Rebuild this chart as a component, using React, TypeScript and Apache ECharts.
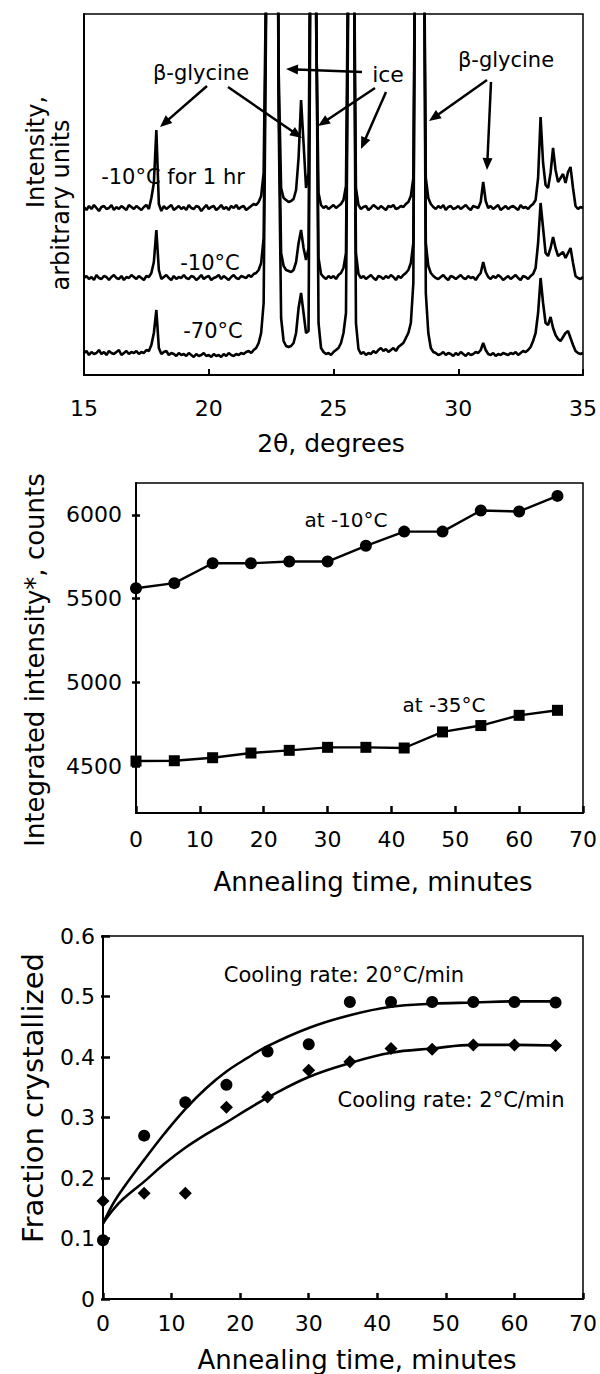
import React, { useEffect, useRef } from "react";
import * as echarts from "echarts";

const FONT = '"DejaVu Sans", sans-serif';

// ---------- Panel A: XRD patterns ----------
const twoThetaStart = 15;
const twoThetaStep = 0.1;
const xrdTicks = [15, 20, 25, 30, 35];
const xrdNames = ["-10°C for 1 hr", "-10°C", "-70°C"];
const xrdOffsets = [157, 87, 12];
// intensities (arbitrary units) sampled every 0.1° from 15.0° to 35.0°
const xrd10for1hr = [
  11, 8, 12, 9, 13, 10, 7, 11, 12, 9,
  10, 13, 8, 11, 9, 12, 10, 8, 13, 11,
  9, 12, 10, 8, 11, 13, 9, 20, 35, 88,
  14, 7, 12, 9, 11, 13, 8, 10, 12, 9,
  11, 8, 13, 10, 9, 12, 11, 7, 10, 13,
  9, 11, 12, 8, 10, 13, 9, 11, 8, 12,
  10, 13, 9, 11, 12, 8, 10, 12, 14, 13,
  16, 22, 45, 250, 600, 700, 700, 600, 150, 30,
  20, 18, 16, 17, 19, 28, 60, 118, 75, 30,
  45, 400, 600, 200, 25, 13, 10, 12, 9, 11,
  13, 10, 12, 14, 18, 32, 300, 700, 350, 30,
  13, 9, 11, 12, 8, 10, 13, 11, 9, 12,
  10, 8, 12, 11, 13, 9, 10, 12, 11, 14,
  16, 22, 40, 400, 700, 700, 400, 40, 20, 14,
  11, 9, 12, 10, 13, 8, 11, 12, 9, 10,
  12, 9, 11, 13, 10, 8, 12, 11, 10, 16,
  36, 17, 10, 12, 9, 11, 13, 8, 10, 12,
  9, 11, 12, 10, 8, 13, 10, 11, 9, 12,
  14, 18, 40, 101, 55, 33, 30, 45, 70, 48,
  36, 40, 44, 35, 46, 51, 30, 12, 9, 11,
  10,
];
const xrd10 = [
  10, 12, 9, 11, 8, 13, 10, 9, 12, 11,
  8, 11, 13, 10, 9, 12, 8, 11, 10, 13,
  11, 9, 12, 10, 8, 12, 11, 15, 26, 58,
  18, 9, 11, 13, 10, 8, 12, 9, 11, 10,
  13, 10, 9, 12, 11, 8, 10, 13, 9, 11,
  12, 8, 10, 11, 13, 9, 12, 10, 8, 11,
  13, 10, 9, 12, 11, 10, 13, 11, 14, 15,
  18, 25, 50, 300, 700, 800, 800, 700, 200, 35,
  22, 18, 17, 16, 18, 26, 45, 58, 40, 28,
  40, 500, 700, 300, 30, 14, 11, 9, 12, 10,
  12, 9, 13, 15, 20, 35, 350, 800, 400, 35,
  14, 10, 12, 9, 11, 13, 10, 8, 12, 11,
  9, 12, 10, 13, 11, 8, 12, 10, 13, 15,
  18, 25, 45, 500, 800, 800, 500, 45, 22, 15,
  12, 10, 9, 11, 13, 10, 8, 12, 11, 9,
  11, 13, 10, 9, 12, 10, 11, 8, 12, 15,
  26, 16, 11, 9, 12, 10, 13, 11, 8, 10,
  12, 9, 11, 13, 10, 8, 12, 11, 9, 12,
  14, 20, 45, 85, 60, 35, 32, 40, 51, 40,
  32, 34, 36, 30, 35, 40, 25, 12, 10, 9,
  11,
];
const xrd70 = [
  10, 12, 8, 11, 9, 10, 13, 9, 11, 8,
  12, 10, 9, 11, 13, 8, 10, 12, 9, 11,
  10, 12, 9, 11, 10, 13, 12, 18, 30, 53,
  15, 9, 11, 12, 8, 10, 9, 7, 10, 8,
  9, 7, 10, 8, 6, 9, 7, 8, 10, 7,
  8, 6, 9, 7, 8, 6, 9, 7, 10, 8,
  7, 9, 8, 10, 9, 11, 12, 10, 13, 15,
  20, 30, 60, 350, 800, 900, 900, 800, 250, 45,
  22, 17, 16, 17, 20, 30, 55, 70, 50, 30,
  32, 500, 800, 400, 40, 15, 11, 9, 10, 8,
  11, 13, 15, 20, 30, 50, 400, 900, 500, 40,
  14, 9, 11, 8, 10, 9, 12, 10, 13, 15,
  12, 14, 11, 13, 15, 12, 16, 18, 20, 25,
  30, 40, 80, 600, 900, 900, 600, 70, 30, 15,
  11, 10, 8, 9, 11, 8, 10, 9, 7, 10,
  8, 11, 9, 7, 10, 8, 9, 11, 10, 13,
  20, 13, 9, 8, 10, 7, 9, 8, 10, 9,
  8, 10, 9, 11, 8, 10, 12, 11, 13, 16,
  22, 30, 50, 85, 60, 40, 38, 46, 35, 28,
  24, 22, 26, 30, 32, 25, 18, 12, 10, 9,
  10,
];
const xrdTraces = [xrd10for1hr, xrd10, xrd70];

// ---------- Panel B: integrated intensity ----------
const annealTimes = [0, 6, 12, 18, 24, 30, 36, 42, 48, 54, 60, 66];
const intensityAt10 = [5562, 5592, 5711, 5711, 5721, 5721, 5815, 5900, 5900, 6026, 6020, 6113];
const intensityAt35 = [4530, 4532, 4550, 4578, 4594, 4612, 4612, 4608, 4704, 4742, 4803, 4833];
const intensityTicks = [4500, 5000, 5500, 6000];

// ---------- Panel C: fraction crystallized ----------
const frac20 = [0.097, 0.27, 0.325, 0.354, 0.409, 0.421, 0.491, 0.491, 0.491, 0.491, 0.491, 0.49];
const frac2 = [0.162, 0.175, 0.175, 0.317, 0.334, 0.378, 0.392, 0.414, 0.413, 0.42, 0.42, 0.419];
const fitTimes = [0, 1.5, 3, 6, 9, 12, 15, 18, 21, 24, 30, 36, 42, 48, 54, 60, 66];
const fit20 = [0.125, 0.158, 0.184, 0.23, 0.274, 0.314, 0.348, 0.376, 0.398, 0.418, 0.448, 0.469, 0.483, 0.488, 0.49, 0.492, 0.492];
const fit2 = [0.125, 0.148, 0.166, 0.194, 0.224, 0.25, 0.272, 0.292, 0.313, 0.333, 0.367, 0.39, 0.407, 0.414, 0.42, 0.42, 0.419];

const BLACK = "#000";

function txt(text: string, x: number, y: number, size: number, rotate = false) {
  return {
    type: "text",
    x,
    y,
    rotation: rotate ? Math.PI / 2 : 0,
    silent: true,
    style: {
      text,
      fill: BLACK,
      fontSize: size,
      fontFamily: FONT,
      align: "center",
      verticalAlign: "middle",
    },
  };
}

function arrow(x1: number, y1: number, x2: number, y2: number) {
  const dx = x2 - x1;
  const dy = y2 - y1;
  const len = Math.sqrt(dx * dx + dy * dy);
  const ux = dx / len;
  const uy = dy / len;
  const headLen = 12;
  const headW = 5;
  const bx = x2 - ux * headLen;
  const by = y2 - uy * headLen;
  return [
    {
      type: "line",
      silent: true,
      shape: { x1, y1, x2: bx + ux * 2, y2: by + uy * 2 },
      style: { stroke: BLACK, lineWidth: 2.5 },
    },
    {
      type: "polygon",
      silent: true,
      shape: {
        points: [
          [x2, y2],
          [bx - uy * headW, by + ux * headW],
          [bx + uy * headW, by - ux * headW],
        ],
      },
      style: { fill: BLACK },
    },
  ];
}

const axisLine = { show: true, onZero: false, lineStyle: { color: BLACK, width: 2 } };
const labelStyle = { color: BLACK, fontSize: 22, fontFamily: FONT };

export default function App() {
  const ref = useRef<HTMLDivElement>(null);
  useEffect(() => {
    document.body.style.margin = "0";
    if (!ref.current) return;
    const chart = echarts.init(ref.current, undefined, { renderer: "svg" });

    const xrdSeries = xrdTraces.map((tr, k) => ({
      name: xrdNames[k],
      type: "line",
      xAxisIndex: 0,
      yAxisIndex: 0,
      showSymbol: false,
      symbol: "none",
      clip: true,
      lineStyle: { color: BLACK, width: 2.6 },
      data: tr.map((v, i) => [
        Math.round((twoThetaStart + i * twoThetaStep) * 10) / 10,
        v + xrdOffsets[k],
      ]),
    }));

    const graphics: any[] = [
      txt("Intensity,", 36, 152, 24, true),
      txt("arbitrary units", 61, 205, 24, true),
      txt("2θ, degrees", 331, 443, 25),
      txt("β-glycine", 201, 73, 21),
      txt("ice", 388, 74, 22),
      txt("β-glycine", 506, 60, 21),
      txt("-10°C for 1 hr", 173, 177, 21),
      txt("-10°C", 210, 263, 21),
      txt("-70°C", 213, 331, 21),
      ...arrow(207, 86, 160, 127),
      ...arrow(228, 87, 302, 138),
      ...arrow(362, 72, 286, 69),
      ...arrow(375, 88, 318, 126),
      ...arrow(386, 92, 361, 149),
      ...arrow(487, 80, 429, 121),
      ...arrow(491, 82, 487, 170),
      txt("Integrated intensity*, counts", 35, 660, 26, true),
      txt("Annealing time, minutes", 373, 882, 26),
      txt("at -10°C", 346, 520, 20),
      txt("at -35°C", 444, 705, 20),
      txt("Fraction crystallized", 33, 1098, 29, true),
      txt("Annealing time, minutes", 357, 1360, 26),
      txt("Cooling rate: 20°C/min", 344, 975, 21),
      txt("Cooling rate: 2°C/min", 451, 1100, 21),
    ];

    chart.setOption({
      animation: false,
      backgroundColor: "#fff",
      grid: [
        { left: 84, top: 14, width: 503, height: 361, show: true, borderColor: BLACK, borderWidth: 1.5, backgroundColor: "transparent" },
        { left: 136, top: 483, width: 450, height: 330, show: true, borderColor: BLACK, borderWidth: 1.5, backgroundColor: "transparent" },
        { left: 103, top: 936, width: 484, height: 363, show: true, borderColor: BLACK, borderWidth: 1.5, backgroundColor: "transparent" },
      ],
      xAxis: [
        {
          gridIndex: 0, type: "value", min: xrdTicks[0], max: xrdTicks[xrdTicks.length - 1], interval: 5,
          axisLine, splitLine: { show: false },
          axisTick: { inside: true, length: 6, lineStyle: { color: BLACK, width: 2 } },
          axisLabel: { ...labelStyle, margin: 22 },
        },
        {
          gridIndex: 1, type: "value", min: 0, max: 70, interval: 10,
          axisLine, splitLine: { show: false },
          axisTick: { inside: true, length: 7, lineStyle: { color: BLACK, width: 2.5 } },
          axisLabel: { ...labelStyle, margin: 15 },
        },
        {
          gridIndex: 2, type: "value", min: 0, max: 70, interval: 10,
          axisLine, splitLine: { show: false },
          axisTick: { inside: true, length: 6, lineStyle: { color: BLACK, width: 2.5 } },
          axisLabel: { ...labelStyle, margin: 13 },
        },
      ],
      yAxis: [
        {
          gridIndex: 0, type: "value", min: 0, max: 361,
          axisLine, splitLine: { show: false }, axisTick: { show: false }, axisLabel: { show: false },
        },
        {
          gridIndex: 1, type: "value", min: 4220, max: 6190, position: "left",
          axisLine, splitLine: { show: false },
          axisTick: { inside: false, length: 4, customValues: intensityTicks, lineStyle: { color: BLACK, width: 2.5 } },
          axisLabel: {
            ...labelStyle, margin: 14, customValues: intensityTicks,
            formatter: (v: number) => String(Math.round(v)),
          },
        },
        {
          gridIndex: 1, type: "value", min: 4220, max: 6190, position: "left",
          axisLine: { show: false }, splitLine: { show: false }, axisLabel: { show: false },
          axisTick: { inside: true, length: 4, customValues: intensityTicks, lineStyle: { color: BLACK, width: 2.5 } },
        },
        {
          gridIndex: 2, type: "value", min: 0, max: 0.6, interval: 0.1, position: "left",
          axisLine, splitLine: { show: false },
          axisTick: { inside: false, length: 2, lineStyle: { color: BLACK, width: 2.5 } },
          axisLabel: {
            ...labelStyle, margin: 8,
            formatter: (v: number) => (Math.abs(v) < 1e-9 ? "0" : v.toFixed(1)),
          },
        },
        {
          gridIndex: 2, type: "value", min: 0, max: 0.6, interval: 0.1, position: "left",
          axisLine: { show: false }, splitLine: { show: false }, axisLabel: { show: false },
          axisTick: { inside: true, length: 7, lineStyle: { color: BLACK, width: 2.5 } },
        },
      ],
      series: [
        ...xrdSeries,
        {
          name: "at -10°C", type: "line", xAxisIndex: 1, yAxisIndex: 1,
          symbol: "circle", symbolSize: 12, showSymbol: true,
          itemStyle: { color: BLACK, opacity: 1 }, lineStyle: { color: BLACK, width: 2.4 },
          data: annealTimes.map((t, i) => [t, intensityAt10[i]]),
        },
        {
          name: "at -35°C", type: "line", xAxisIndex: 1, yAxisIndex: 1,
          symbol: "rect", symbolSize: 11, showSymbol: true,
          itemStyle: { color: BLACK, opacity: 1 }, lineStyle: { color: BLACK, width: 2.4 },
          data: annealTimes.map((t, i) => [t, intensityAt35[i]]),
        },
        {
          name: "fit 20°C/min", type: "line", xAxisIndex: 2, yAxisIndex: 3,
          symbol: "none", smooth: 0.4, lineStyle: { color: BLACK, width: 2.6 },
          data: fitTimes.map((t, i) => [t, fit20[i]]),
        },
        {
          name: "fit 2°C/min", type: "line", xAxisIndex: 2, yAxisIndex: 3,
          symbol: "none", smooth: 0.4, lineStyle: { color: BLACK, width: 2.6 },
          data: fitTimes.map((t, i) => [t, fit2[i]]),
        },
        {
          name: "20°C/min", type: "scatter", xAxisIndex: 2, yAxisIndex: 3,
          symbol: "circle", symbolSize: 12, clip: false, itemStyle: { color: BLACK, opacity: 1 },
          data: annealTimes.map((t, i) => [t, frac20[i]]),
        },
        {
          name: "2°C/min", type: "scatter", xAxisIndex: 2, yAxisIndex: 3,
          symbol: "diamond", symbolSize: 13, clip: false, itemStyle: { color: BLACK, opacity: 1 },
          data: annealTimes.map((t, i) => [t, frac2[i]]),
        },
      ],
      graphic: graphics,
    });
    return () => chart.dispose();
  }, []);
  return <div ref={ref} style={{ width: 600, height: 1374 }} />;
}
